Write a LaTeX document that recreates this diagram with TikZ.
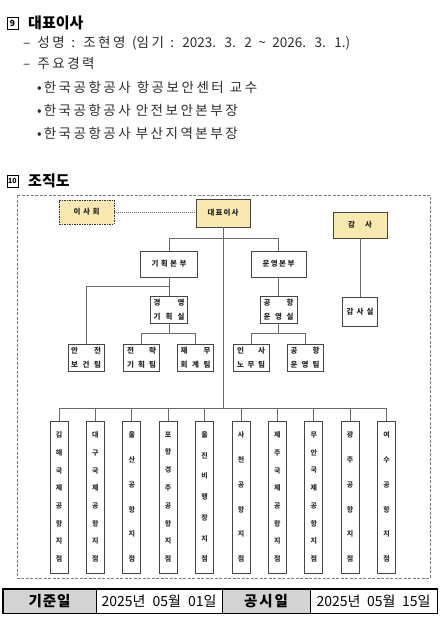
\documentclass[tikz,border=0pt]{standalone}
\usepackage{fontspec}
\setmainfont{Noto Sans CJK KR}
\newfontfamily\bodyfam{Noto Sans CJK KR}
\newcount\hgcnt
\hgcnt="AC00
\loop
  \XeTeXcharclass\hgcnt=7
  \ifnum\hgcnt<"D7A3
  \advance\hgcnt by 1
\repeat
\XeTeXinterchartoks 7 7 = {\kern2.5pt}
\definecolor{boxyellow}{RGB}{249,232,176}
\definecolor{linegray}{RGB}{105,105,105}
\definecolor{boxline}{RGB}{70,70,70}
\definecolor{framegray}{RGB}{125,125,125}
\definecolor{cellgray}{RGB}{212,212,212}
\definecolor{txt}{RGB}{45,45,45}
\newcommand\vtloop[1]{\ifx\relax#1\else\vfill\hbox to 10pt{\hss#1\hss}\expandafter\vtloop\fi}
\newcommand\vtxt[2]{\vbox to 130pt{\hbox to 10pt{\hss#1\hss}\vtloop#2\relax}}
\newcommand\bodyfont{\bodyfam\fontsize{13.5}{13.5}\selectfont\XeTeXinterchartokenstate=1\relax}
\newcommand\bline[2]{\spaceskip=8pt plus 10pt minus 3pt\relax\makebox[#1][s]{#2}}
\begin{document}
\begin{tikzpicture}[x=1pt,y=-1pt,
  orgbox/.style={draw=boxline, line width=0.8pt, fill=white, inner sep=0pt,
    font=\fontsize{7.5}{14.5}\selectfont\bfseries, align=center, text=black!85},
  ybox/.style={orgbox, fill=boxyellow},
  teambox/.style={orgbox, minimum width=36pt, minimum height=27pt},
  vbox/.style={draw=boxline, line width=0.8pt, fill=white, inner sep=0pt,
    minimum width=18pt, minimum height=152pt, font=\fontsize{7}{7}\selectfont\bfseries, text=black!80},
  conn/.style={draw=linegray, line width=0.8pt},
  dotconn/.style={draw=linegray, line width=0.8pt, dash pattern=on 1pt off 1pt},
  framedash/.style={draw=framegray, line width=1pt, dash pattern=on 3pt off 1.5pt},
  numbox/.style={draw=black, line width=0.8pt, inner sep=0pt, minimum width=11pt, minimum height=12pt, font=\fontsize{8.5}{8.5}\selectfont\bfseries},
  title/.style={anchor=west, inner sep=0pt, font=\fontsize{15}{15}\selectfont\bfseries},
  body/.style={anchor=west, inner sep=0pt, font=\bodyfont, text=txt},
  cell/.style={draw=black, line width=0.8pt, inner sep=0pt, minimum height=24pt},
  cellhead/.style={cell, fill=cellgray, font=\fontsize{14.5}{14.5}\selectfont\bfseries},
  cellval/.style={cell, fill=white, font=\fontsize{14}{14}\selectfont}
]
\useasboundingbox (0,0) rectangle (443,626);

% --- header text ---
\node[numbox] (n9) at (12.5,23) {9};
\node[title] (t9) at (28,23) {대표이사};
\node[body] (l1) at (23,43) {\bline{327pt}{–\kern7pt 성명 : 조현영 (임기 : 2023. 3. 2 \textasciitilde\ 2026. 3. 1.)}};
\node[body] (l2) at (23,63) {–\kern7pt 주요경력};
\node[body] (l3) at (37,87) {\bline{220pt}{•\kern2pt 한국공항공사 항공보안센터 교수}};
\node[body] (l4) at (37,110) {\bline{195pt}{•\kern2pt 한국공항공사 안전보안본부장}};
\node[body] (l5) at (37,133) {\bline{195pt}{•\kern2pt 한국공항공사 부산지역본부장}};
\node[numbox, font=\fontsize{7}{7}\selectfont\bfseries] (n10) at (12.5,181) {10};
\node[title] (t10) at (28,181) {조직도};

% --- frame ---
\draw[framedash] (17,195) rectangle (430,578);

% --- top level ---
\node[ybox, minimum width=55pt, minimum height=24pt, draw=black!80, dash pattern=on 1.5pt off 1pt] (isahoe) at (86.5,212) {\makebox[26pt][s]{이\hfil 사\hfil 회}};
\node[ybox, minimum width=54pt, minimum height=28pt] (ceo) at (223,213) {\makebox[31pt][s]{대\hfil 표\hfil 이\hfil 사}};
\node[ybox, minimum width=54pt, minimum height=26pt] (gamsa) at (360,225) {\makebox[24pt][s]{감\hfil 사}};
\node[orgbox, minimum width=35pt, minimum height=29pt] (gamsasil) at (360,311.5) {\makebox[27pt][s]{감\hfil 사\hfil 실}};

\node[orgbox, minimum width=57pt, minimum height=26pt] (gihoek) at (169,264) {\makebox[35pt][s]{기\hfil 획\hfil 본\hfil 부}};
\node[orgbox, minimum width=55pt, minimum height=26pt] (unyeong) at (278.5,264) {\makebox[32pt][s]{운\hfil 영\hfil 본\hfil 부}};

\node[orgbox, minimum width=37pt, minimum height=27pt] (gyeong) at (169,309.5) {\makebox[31pt][s]{경\hfil 영}\\\makebox[31pt][s]{기\hfil 획\hfil 실}};
\node[orgbox, minimum width=37pt, minimum height=27pt] (gsil) at (278.5,309.5) {\makebox[30pt][s]{공\hfil 항}\\\makebox[30pt][s]{운\hfil 영\hfil 실}};

\node[teambox] (anjeon) at (86,357.5) {\makebox[30pt][s]{안\hfil 전}\\\makebox[30pt][s]{보\hfil 건\hfil 팀}};
\node[teambox] (jeonryak) at (141.5,357.5) {\makebox[29pt][s]{전\hfil 략}\\\makebox[29pt][s]{기\hfil 획\hfil 팀}};
\node[teambox] (jaemu) at (195.5,357.5) {\makebox[30pt][s]{재\hfil 무}\\\makebox[30pt][s]{회\hfil 계\hfil 팀}};
\node[teambox] (insa) at (251,357.5) {\makebox[28pt][s]{인\hfil 사}\\\makebox[28pt][s]{노\hfil 무\hfil 팀}};
\node[teambox] (gteam) at (305,357.5) {\makebox[29pt][s]{공\hfil 항}\\\makebox[29pt][s]{운\hfil 영\hfil 팀}};

% --- branches ---
\node[vbox] (b1) at (59,497) {\vtxt{김}{해국제공항지점}};
\node[vbox] (b2) at (95.4,497) {\vtxt{대}{구국제공항지점}};
\node[vbox] (b3) at (131.8,497) {\vtxt{울}{산공항지점}};
\node[vbox] (b4) at (168.2,497) {\vtxt{포}{항경주공항지점}};
\node[vbox] (b5) at (204.6,497) {\vtxt{울}{진비행장지점}};
\node[vbox] (b6) at (241,497) {\vtxt{사}{천공항지점}};
\node[vbox] (b7) at (277.4,497) {\vtxt{제}{주국제공항지점}};
\node[vbox] (b8) at (313.8,497) {\vtxt{무}{안국제공항지점}};
\node[vbox] (b9) at (350.2,497) {\vtxt{광}{주공항지점}};
\node[vbox] (b10) at (386.6,497) {\vtxt{여}{수공항지점}};

% --- bus coordinates ---
\coordinate (busA) at (0,238);
\coordinate (busB) at (0,408);
\coordinate (busC) at (0,286);
\coordinate (busD) at (0,333);

% --- connectors ---
\draw[dotconn] (isahoe.east) -- (ceo.west |- isahoe.east);
\draw[conn] (ceo.south) -- (ceo.south |- busB);
\draw[conn] (gihoek.north) -- (gihoek.north |- busA) -- (unyeong.north |- busA) -- (unyeong.north);
\draw[conn] (gamsa.south) -- (gamsa.south |- gamsasil.north);
\draw[conn] (gihoek.south) -- (gyeong.north);
\draw[conn] (gihoek.south |- busC) -- (anjeon.north |- busC) -- (anjeon.north);
\draw[conn] (gyeong.south) -- (gyeong.south |- busD);
\draw[conn] (jeonryak.north) -- (jeonryak.north |- busD) -- (jaemu.north |- busD) -- (jaemu.north);
\draw[conn] (unyeong.south) -- (gsil.north);
\draw[conn] (gsil.south) -- (gsil.south |- busD);
\draw[conn] (insa.north) -- (insa.north |- busD) -- (gteam.north |- busD) -- (gteam.north);
\draw[conn] (b1.north) -- (b1.north |- busB) -- (b10.north |- busB) -- (b10.north);
\foreach \i in {2,...,9} \draw[conn] (b\i.north) -- (b\i.north |- busB);

% --- footer table ---
\node[cellhead, minimum width=93pt] (c1) at (49.5,601) {\makebox[42pt][s]{기\hfil 준\hfil 일}};
\node[cellval, minimum width=126pt] (c2) at (159,601) {\makebox[115pt][s]{2025년 05월 01일}};
\node[cellhead, minimum width=88pt] (c3) at (266,601) {\makebox[44pt][s]{공\hfil 시\hfil 일}};
\node[cellval, minimum width=127pt] (c4) at (373.5,601) {\makebox[114pt][s]{2025년 05월 15일}};
\draw[line width=1.6pt] (c1.north west) rectangle (c4.south east);
\end{tikzpicture}
\end{document}
